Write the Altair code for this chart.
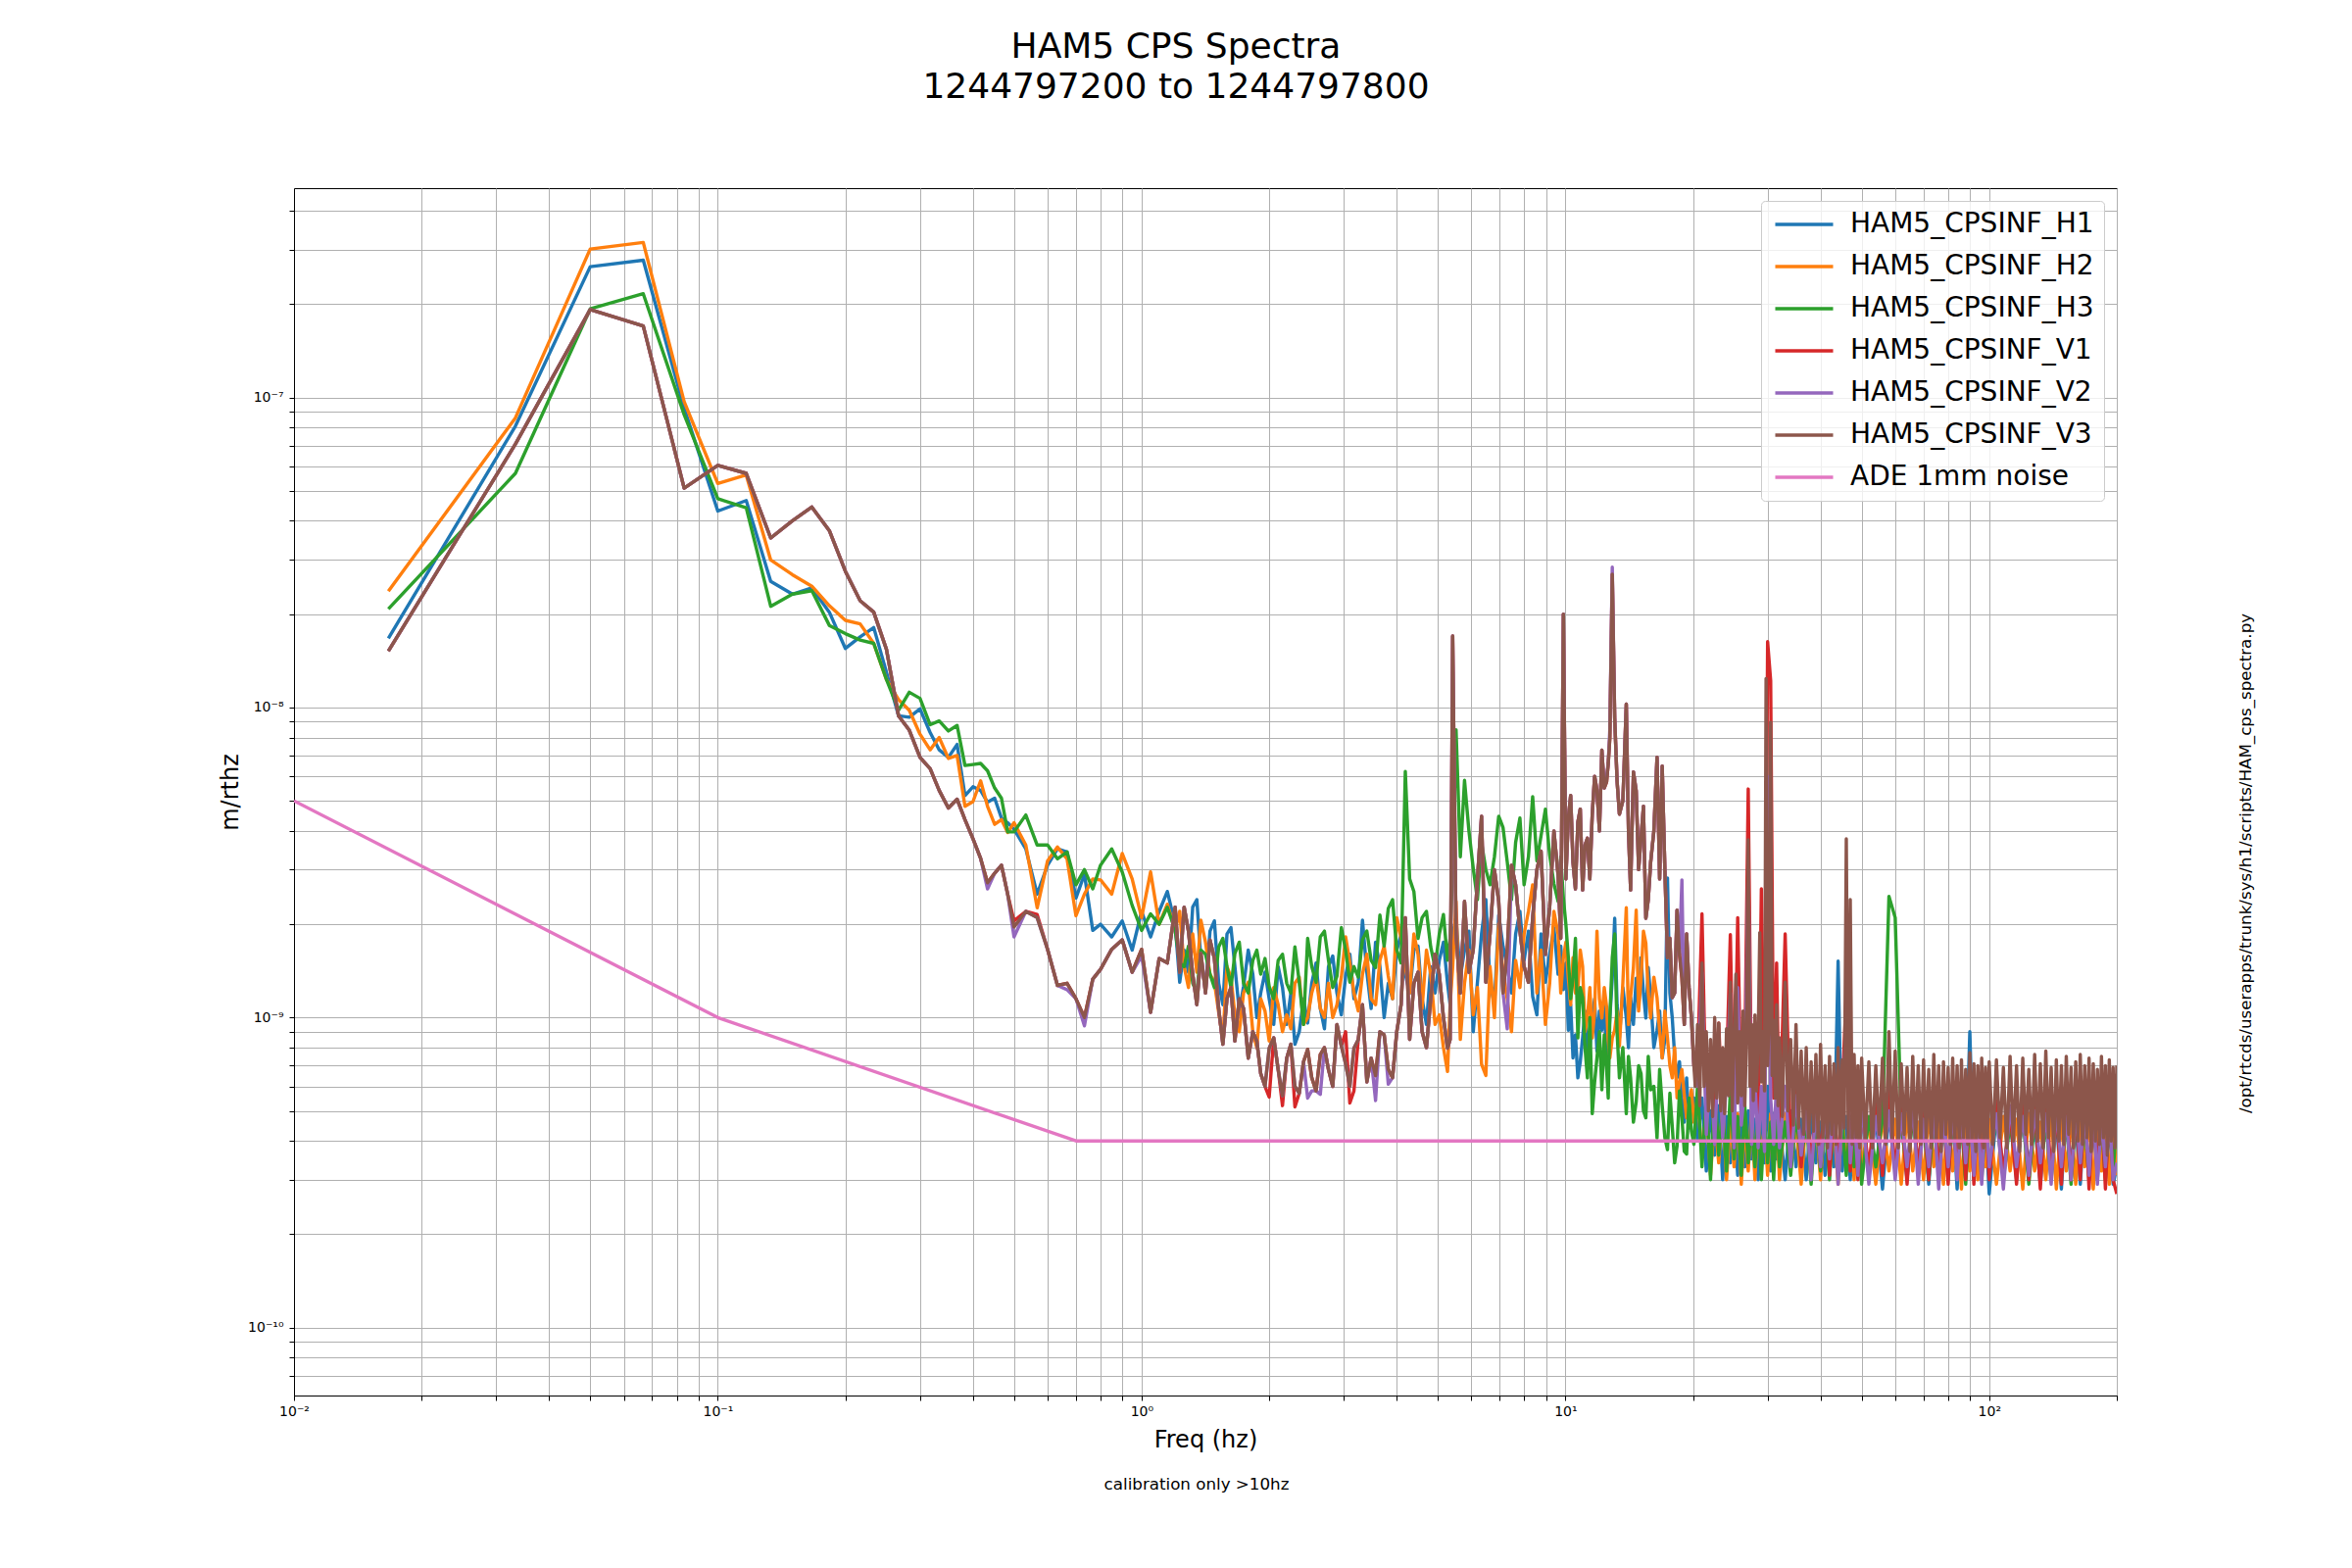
import altair as alt
import pandas as pd

SERIES = ["HAM5_CPSINF_H1", "HAM5_CPSINF_H2", "HAM5_CPSINF_H3",
          "HAM5_CPSINF_V1", "HAM5_CPSINF_V2", "HAM5_CPSINF_V3", "ADE 1mm noise"]
COLORS = ["#1f77b4", "#ff7f0e", "#2ca02c", "#d62728", "#9467bd", "#8c564b", "#e377c2"]

TITLE = ["HAM5 CPS Spectra", "1244797200 to 1244797800"]
NOTE = "calibration only >10hz"
SCRIPT_PATH = "/opt/rtcds/userapps/trunk/sys/h1/scripts/HAM_cps_spectra.py"

# amplitudes below are in units of 1e-10 m/rtHz
UNIT = 1e-10

# ---- frequency grid below 20 Hz (Hz) ----
FREQ_LOW = [
    0.0167, 0.0333, 0.05, 0.0667, 0.0833, 0.1, 0.1167, 0.1333, 0.15, 0.1667, 0.1833, 0.2, 0.2167, 0.2333, 0.25,
    0.267, 0.283, 0.3, 0.317, 0.333, 0.35, 0.367, 0.383, 0.4, 0.417, 0.433, 0.45, 0.467, 0.483, 0.5, 0.533,
    0.567, 0.6, 0.633, 0.667, 0.7, 0.733, 0.767, 0.8, 0.85, 0.9, 0.95, 1.0, 1.05, 1.1, 1.15, 1.2,
    1.26, 1.32, 1.38, 1.45, 1.52, 1.59, 1.66, 1.74, 1.83, 1.91, 2.0, 2.1, 2.2, 2.3, 2.41, 2.52, 2.64, 2.76,
    2.89, 3.03, 3.17, 3.32, 3.48, 3.65, 3.82, 4.0, 4.19, 4.39, 4.59, 4.81, 5.04, 5.27, 5.42, 5.52, 5.78,
    6.06, 6.34, 6.64, 6.96, 7.29, 7.63, 7.99, 8.37, 8.76, 9.18, 9.61,
    9.89, 10.16, 10.42, 10.7, 10.98, 11.27, 11.57, 11.87, 12.19, 12.51, 12.73, 12.9, 13.07, 13.41, 13.92,
    14.25, 14.69, 15.08, 15.48, 15.89, 16.45, 16.92, 17.41, 17.87, 18.34, 18.83, 19.32, 19.83,
]

# ---- extra in-between readings, 1.2-20 Hz (Hz) ----
FREQ_MID = [
    1.23, 1.29, 1.35, 1.415, 1.485, 1.555, 1.625, 1.70, 1.785, 1.87, 1.955, 2.05, 2.15, 2.25, 2.355, 2.465,
    2.58, 2.70, 2.825, 2.96, 3.10, 3.245, 3.40, 3.565, 3.735, 3.91, 4.095, 4.29, 4.49, 4.70, 4.925, 5.155,
    5.345, 5.65, 5.92, 6.20, 6.49, 6.80, 7.125, 7.46, 7.81, 8.18, 8.565, 8.97, 9.395, 9.75,
    10.025, 10.29, 10.56, 10.84, 11.125, 11.42, 11.72, 12.03, 12.35, 12.62, 13.24, 13.665, 14.085, 14.47,
    14.885, 15.28, 15.685, 16.17, 16.685, 17.165, 17.64, 18.105, 18.585, 19.075, 19.575, 20.1,
]

# ---- frequency grid 20-200 Hz for H1, H2, H3, V1, V2 (Hz) ----
FREQ_HIGH = [
    20.5, 21, 21.5, 22, 22.5, 23, 23.5, 24, 24.5, 25, 25.5, 26, 26.5, 27, 27.5, 28, 28.5, 29, 29.5, 30, 30.5, 31, 31.5, 32,
    33, 34, 35, 36, 37, 38, 39, 40, 41, 42, 43, 44, 45, 46, 47, 48, 49, 50,
    52, 54, 56, 58, 60, 62, 64, 66, 68, 70, 72, 74, 76, 78, 80, 82, 84, 86, 88, 90, 92, 94, 96, 98, 100,
    104, 108, 112, 116, 120, 124, 128, 132, 136, 140, 144, 148, 152, 156, 160, 164, 168, 172, 176, 180, 184, 188, 192, 196, 200,
]

# ---- finer frequency grid 20-200 Hz for V3, the trace drawn on top (Hz) ----
FREQ_HIGH_V3 = [
    20.25, 20.5, 20.75, 21, 21.25, 21.5, 21.75, 22, 22.25, 22.5, 22.75, 23, 23.25, 23.5, 23.75, 24,
    24.25, 24.5, 24.75, 25, 25.25, 25.5, 25.75, 26, 26.25, 26.5, 26.75, 27, 27.25, 27.5, 27.75, 28,
    28.25, 28.5, 28.75, 29, 29.25, 29.5, 29.75, 30, 30.25, 30.5, 30.75, 31, 31.25, 31.5, 31.75, 32,
    32.5, 33, 33.5, 34, 34.5, 35, 35.5, 36, 36.5, 37, 37.5, 38, 38.5, 39, 39.5, 40, 40.5, 41,
    41.5, 42, 42.5, 43, 43.5, 44, 44.5, 45, 45.5, 46, 46.5, 47, 47.5, 48, 48.5, 49, 49.5, 50,
    51, 52, 53, 54, 55, 56, 57, 58, 59, 60, 61, 62, 63, 64, 65, 66, 67, 68, 69, 70,
    71, 72, 73, 74, 75, 76, 77, 78, 79, 80, 81, 82, 83, 84, 85, 86, 87, 88, 89, 90,
    91, 92, 93, 94, 95, 96, 97, 98, 99, 100,
    102, 104, 106, 108, 110, 112, 114, 116, 118, 120, 122, 124, 126, 128, 130, 132, 134, 136, 138, 140,
    142, 144, 146, 148, 150, 152, 154, 156, 158, 160, 162, 164, 166, 168, 170, 172, 174, 176, 178, 180,
    182, 184, 186, 188, 190, 192, 194, 196, 198, 200,
]

H1_LOW = [
    167, 808, 2640, 2770, 923, 430, 465, 255, 232, 243, 203, 155, 169, 181, 130,
    94, 93, 99, 83, 73, 69, 76, 52, 55.5, 54, 49.5, 51, 44, 42.5, 40.5, 35, 25, 31, 35, 34.2, 24.3, 29, 19.1, 20,
    18.2, 20.5, 16.5, 22, 18.2, 22, 25.5, 20,
    16.5, 22.7, 15.3, 19.0, 12.9, 18.6, 14.6, 12.6, 13.8, 12.0, 11.5, 14.6, 9.5, 8.2, 11.5, 12.9, 10.7, 14.6,
    12.0, 13.6, 11.5, 20.6, 10.7, 14.6, 12.9, 16.5, 13.8, 16.5, 11.5, 14.6, 15.3, 12.9, 18.6, 21.0, 16.5,
    9.0, 18.6, 12.9, 21.4, 14.6, 18.6, 15.3, 11.7, 18.6, 16.1, 13.8,
    12.3, 9.1, 7.41, 6.39, 8.6, 7.2, 9.97, 7.8, 9.1, 7.41, 9.97, 13.4, 20.9, 8.6, 9.97,
    11.6, 13.4, 15.6, 9.97, 11.6, 9.1, 7.41, 28.2, 9.97, 6.39, 5.51, 6.39, 5.1,
]
H2_LOW = [
    237, 859, 3010, 3160, 969, 528, 562, 299, 268, 246, 213, 191, 186, 161, 123,
    106, 98, 82, 73, 80, 68.5, 70, 48, 49.7, 58, 48, 42, 43.5, 39.5, 42.5, 36, 22.6, 32, 35.5, 32.5, 21.3, 25, 28, 27.8,
    25, 33.8, 28, 21, 29.5, 20, 23.2, 19.1,
    14.6, 18.6, 20.6, 13.8, 10.4, 14.6, 10.2, 12.0, 9.0, 11.5, 8.4, 11.0, 10.2, 12.9, 9.5, 12.0, 10.7, 12.9,
    11.0, 18.2, 12.0, 13.8, 11.5, 15.3, 13.6, 21.0, 14.6, 18.6, 10.7, 13.8, 10.2, 6.7, 14.6, 23.7, 12.9,
    10.2, 7.07, 14.6, 20.1, 11.5, 15.3, 18.6, 26.8, 16.5, 12.9, 18.6,
    15.6, 13.4, 15.6, 12.3, 14.6, 9.97, 8.6, 19.0, 9.97, 10.8, 7.41, 8.6, 9.1, 8.1, 22.6,
    11.6, 22.2, 13.4, 17.4, 9.97, 11.6, 7.41, 8.6, 6.39, 5.51, 6.8, 4.75, 5.85,
]
H3_LOW = [
    208, 569, 1930, 2160, 880, 471, 441, 212, 232, 238, 184, 173, 165, 161, 123,
    98, 112, 107, 88, 90.5, 84, 87.5, 65, 65.5, 66, 62.5, 55, 51, 39.7, 39.7, 45, 36, 36, 32.5, 34.2, 26.8, 30, 26, 31,
    35, 29.5, 23, 19.1, 21.6, 20, 22.7, 19.1,
    14.6, 12.9, 16.5, 13.8, 16.9, 14.6, 16.1, 12.9, 15.3, 13.8, 12.6, 15.3, 12.9, 16.9, 9.5, 14.6, 18.2, 15.3,
    13.6, 16.5, 14.6, 17.8, 15.3, 21.4, 22.5, 16.5, 62.2, 25.5, 21.0, 16.9, 18.6, 15.3, 30.3, 84.8, 58.2,
    30.3, 36.7, 26.8, 44.6, 31.8, 36.7, 26.8, 51.6, 38.6, 33.4, 23.7,
    24.3, 15.6, 13.4, 8.6, 11.6, 6.39, 4.9, 7.41, 5.85, 6.8, 9.97, 15.6, 18.6, 6.39, 4.9,
    6.39, 5.35, 6.6, 4.75, 5.85, 4.09, 5.2, 3.75, 4.45, 3.85, 4.75, 3.63, 4.3,
]
# V1, V2 and V3 lie on top of each other below 20 Hz; this is V3,
# and the few points where V1 / V2 visibly differ are listed separately
V3_LOW = [
    152, 707, 1920, 1700, 510, 604, 569, 352, 400, 443, 372, 275, 221, 203, 154,
    94, 84.5, 69, 63.5, 54, 47.4, 50.6, 43.5, 37.7, 32.6, 27.2, 29.2, 31, 25, 19.6, 22, 21, 16.6, 12.7, 12.9, 11.5,
    10, 13.3, 14.3, 16.6, 17.8, 14, 16.6, 10.4, 15.5, 15, 22.7,
    22.7, 13.8, 16.1, 17.8, 10.7, 11.5, 8.4, 10.7, 9.0, 6.6, 7.97, 6.8, 7.4, 6.0, 7.2, 6.4, 7.6, 6.8,
    9.5, 7.07, 7.97, 11.0, 7.4, 9.0, 6.8, 9.0, 21.0, 12.9, 9.0, 11.5, 13.8, 7.97, 170, 18.6, 23.7,
    16.5, 44.6, 18.6, 23.7, 16.5, 26.8, 14.6, 21.0, 34.4, 22.7, 28.8,
    199.8, 44.0, 31.7, 42.7, 25.8, 37.9, 45.3, 54.1, 72.9, 57.5, 79.7, 268.8, 92.4, 45.3, 102.5,
    25.8, 53.8, 37.9, 20.9, 31.7, 69.1, 64.7, 15.6, 11.6, 22.2, 13.4, 18.6, 9.97,
]
V1_LOW_DIFF = {0.5: 20.5, 0.567: 21.5, 2.0: 5.54, 2.3: 5.15, 3.03: 9.0, 3.17: 5.8}
V2_LOW_DIFF = {0.433: 26, 0.5: 18.2, 0.667: 12.3, 0.733: 9.4, 1.0: 15.8, 2.52: 5.8, 2.64: 5.65,
               3.82: 6.1, 7.29: 9.2, 12.51: 60, 12.73: 85, 12.9: 283.6, 18.83: 27.8}

H1_MID = [
    13.0, 14.0, 24.0, 12.5, 20.5, 11.0, 19.5, 10.5, 16.5, 10.0, 14.0, 9.5, 12.5, 12.0, 9.0, 9.6,
    15.0, 9.2, 15.8, 10.2, 16.0, 13.0, 14.0, 17.5, 10.0, 11.5, 18.5, 12.0, 17.0, 9.5, 12.0, 17.5,
    11.0, 13.5, 19.0, 13.0, 24.0, 11.0, 17.0, 12.0, 22.0, 19.0, 10.2, 13.0, 19.5, 17.0,
    15.0, 11.0, 8.8, 7.2, 10.5, 8.0, 11.5, 10.5, 11.0, 8.2, 11.0, 12.5, 8.0, 9.5,
    10.8, 12.0, 14.5, 8.0, 10.5, 8.5, 12.0, 7.5, 7.2, 4.6, 4.4, 5.5,
]
H2_MID = [
    22.0, 12.5, 14.0, 17.5, 13.0, 8.5, 13.5, 9.0, 13.0, 8.0, 10.5, 12.5, 9.0, 9.2, 13.5, 10.0,
    13.5, 10.0, 10.0, 13.5, 15.0, 10.5, 16.0, 11.0, 17.0, 11.5, 18.0, 12.0, 16.0, 16.5, 9.5, 8.0,
    11.0, 8.5, 16.5, 12.5, 6.5, 10.0, 14.0, 9.0, 12.5, 22.0, 12.0, 9.5, 22.0, 12.0,
    17.5, 11.0, 12.0, 16.5, 9.0, 12.5, 10.5, 11.5, 12.5, 8.4, 10.5, 13.0, 9.5, 14.5,
    10.5, 19.0, 12.0, 13.5, 9.0, 10.5, 7.0, 8.0, 6.2, 5.6, 5.3, 4.6,
]
H3_MID = [
    15.0, 17.0, 12.0, 16.0, 12.5, 18.0, 12.5, 17.5, 12.0, 16.5, 15.5, 11.5, 16.0, 12.0, 13.0, 18.0,
    13.0, 19.0, 12.5, 19.5, 13.0, 13.5, 19.0, 14.5, 17.0, 24.0, 15.0, 28.0, 18.0, 22.0, 14.5, 21.5,
    18.0, 33.0, 40.0, 24.0, 30.0, 33.0, 41.0, 24.0, 44.0, 33.0, 32.0, 47.0, 27.0, 33.0,
    20.0, 11.5, 18.0, 12.5, 8.0, 10.0, 6.2, 9.0, 8.8, 5.5, 9.0, 8.0, 7.5, 4.6,
    7.0, 5.0, 7.5, 6.0, 6.8, 4.1, 5.7, 3.4, 5.8, 3.7, 5.5, 3.9,
]
V3_MID = [
    14.0, 19.0, 11.0, 12.0, 15.5, 8.2, 12.5, 11.5, 7.4, 8.4, 6.0, 8.6, 5.6, 8.2, 5.7, 7.9,
    5.8, 8.0, 6.0, 8.1, 6.0, 8.5, 6.2, 6.5, 8.8, 6.4, 11.0, 8.5, 14.0, 8.0, 16.0, 10.0,
    8.5, 12.0, 14.0, 28.0, 13.0, 30.0, 12.0, 31.0, 19.0, 13.0, 30.0, 16.0, 40.0, 18.0,
    28.0, 52.0, 26.0, 47.0, 36.0, 28.0, 60.0, 40.0, 55.0, 66.0, 58.0, 50.0, 40.0, 62.0,
    30.0, 48.0, 24.0, 40.0, 28.0, 30.0, 18.0, 12.0, 16.0, 9.5, 12.5, 7.0,
]
V1_MID_DIFF = {2.15: 5.2, 3.10: 5.3}
V2_MID_DIFF = {2.465: 5.5, 3.565: 5.4}

H1_HIGH = [
    4.0, 5.5, 3.2, 5.0, 3.6, 5.2, 3.0, 4.8, 3.4, 5.0, 3.1, 4.6, 3.3, 5.0, 3.5, 4.7, 3.0, 5.1, 3.4, 6.0, 3.2, 4.9, 3.5, 4.6,
    3.0, 5.0, 3.3, 4.7, 3.0, 4.9, 3.4, 4.6, 3.1, 5.0, 3.3, 15.2, 3.2, 4.8, 3.0, 4.6, 3.3, 5.0,
    3.1, 4.8, 2.8, 4.9, 3.2, 4.7, 3.0, 5.1, 3.3, 4.6, 2.9, 4.9, 3.3, 4.7, 3.0, 4.9, 2.8, 5.0, 3.2, 9.0, 3.0, 4.8, 3.3, 4.6, 2.7,
    4.9, 3.2, 4.7, 3.0, 5.0, 3.3, 4.6, 2.9, 4.8, 3.2, 4.7, 2.8, 5.0, 3.3, 4.6, 2.9, 4.9, 3.2, 4.7, 3.0, 5.0, 3.2, 4.6, 2.9, 3.3,
]
H2_HIGH = [
    5.5, 3.6, 5.0, 3.1, 4.8, 3.4, 5.2, 3.0, 4.7, 3.3, 4.9, 2.9, 4.6, 3.2, 5.0, 3.0, 4.8, 3.4, 4.6, 3.1, 4.9, 3.3, 4.7, 3.0,
    4.9, 3.2, 4.6, 2.9, 4.8, 3.3, 4.7, 3.0, 4.9, 3.2, 4.6, 2.9, 4.8, 3.3, 4.7, 3.0, 4.9, 3.3,
    4.6, 2.9, 4.8, 3.2, 4.7, 2.9, 4.9, 3.2, 4.6, 3.0, 4.9, 3.3, 4.7, 2.9, 5.0, 3.2, 4.7, 2.8, 4.9, 3.2, 4.6, 3.0, 4.9, 3.3, 4.7,
    2.9, 4.8, 3.2, 4.7, 2.8, 4.9, 3.2, 4.6, 3.0, 4.9, 2.8, 4.7, 3.2, 4.8, 2.9, 4.6, 3.3, 4.8, 2.8, 4.7, 3.2, 4.9, 2.9, 4.6, 3.1,
]
H3_HIGH = [
    6.0, 3.3, 5.5, 3.0, 6.2, 3.6, 5.0, 3.2, 5.8, 3.5, 4.8, 3.1, 5.2, 3.4, 4.6, 3.3, 4.9, 3.0, 4.7, 3.4, 4.6, 3.0, 4.8, 3.3,
    4.6, 3.1, 4.9, 3.4, 4.7, 2.9, 4.8, 3.2, 4.6, 3.0, 4.9, 3.3, 4.6, 3.1, 4.8, 3.3, 4.6, 2.9,
    4.8, 3.3, 4.7, 24.6, 21.0, 4.6, 3.1, 4.8, 3.3, 4.7, 3.0, 4.6, 3.3, 4.9, 3.1, 4.7, 3.3, 4.6, 2.9, 4.8, 3.3, 4.7, 3.0, 4.6, 3.3,
    4.8, 3.0, 4.6, 3.2, 4.8, 2.9, 4.7, 3.2, 4.6, 3.0, 4.9, 3.2, 4.7, 2.9, 4.8, 3.2, 4.6, 3.0, 4.8, 3.3, 4.6, 3.0, 4.8, 3.2, 4.6,
]
V1_HIGH = [
    7.0, 21.6, 4.8, 7.5, 4.3, 9.6, 4.6, 6.8, 18.5, 4.4, 21.0, 4.8, 7.5, 54.6, 5.0, 8.0, 4.4, 26.0, 5.0, 163, 122, 5.5, 15.0, 4.2,
    18.6, 3.6, 6.5, 3.3, 5.8, 3.2, 5.5, 3.4, 6.0, 3.1, 5.2, 3.3, 5.8, 12.0, 3.2, 5.5, 3.0, 5.0,
    3.3, 5.4, 3.1, 5.8, 3.2, 5.2, 2.9, 5.4, 3.2, 5.0, 3.0, 5.5, 3.1, 5.1, 2.9, 5.3, 3.2, 5.0, 3.0, 5.6, 2.9, 5.1, 3.1, 5.2, 3.0,
    5.4, 3.1, 5.0, 2.9, 5.5, 3.0, 5.2, 2.8, 5.6, 3.1, 5.0, 2.9, 5.4, 3.0, 5.1, 3.0, 5.5, 2.8, 5.0, 3.1, 5.3, 2.8, 5.2, 3.0, 2.7,
]
V2_HIGH = [
    6.0, 14.0, 4.2, 7.0, 3.9, 8.0, 4.1, 6.2, 12.0, 3.8, 12.5, 4.5, 6.0, 30.0, 3.9, 6.3, 3.8, 6.0, 3.7, 60.0, 5.5, 3.9, 6.2, 3.8,
    6.0, 3.3, 5.6, 3.6, 5.0, 3.0, 5.2, 3.3, 4.8, 3.5, 5.4, 2.9, 4.9, 10.0, 3.4, 5.0, 3.1, 5.3,
    2.9, 4.8, 3.4, 5.0, 3.0, 4.9, 3.3, 5.2, 2.9, 4.7, 3.3, 5.0, 2.8, 4.8, 3.3, 5.1, 3.0, 4.9, 3.4, 5.2, 3.1, 4.8, 2.9, 5.0, 3.3,
    4.9, 2.8, 5.2, 3.3, 4.8, 3.1, 5.0, 3.4, 4.9, 2.9, 5.1, 3.3, 4.8, 3.0, 5.0, 3.4, 4.9, 3.1, 5.2, 2.9, 4.8, 3.3, 5.0, 3.0, 3.4,
]
V3_HIGH = [
    6.0, 9.5, 5.2, 15.0, 6.0, 9.0, 5.0, 8.5, 4.8, 10.0, 5.5, 9.6, 5.0, 8.0, 4.9, 9.2,
    5.6, 13.0, 5.0, 8.4, 13.8, 5.3, 9.0, 5.6, 10.5, 5.2, 8.8, 37.4, 6.0, 9.5, 5.4, 10.2,
    5.8, 8.5, 18.8, 6.2, 9.0, 5.8, 124, 7.0, 10.0, 89.7, 6.5, 9.8, 5.5, 11.0, 5.2, 8.6,
    4.8, 13.0, 5.0, 8.5, 4.5, 9.5, 4.4, 7.8, 4.2, 8.0, 4.0, 7.2, 4.3, 7.6, 3.9, 8.2, 4.1, 7.0,
    3.8, 7.5, 4.2, 7.1, 3.9, 8.0, 4.0, 7.3, 4.4, 37.7, 4.0, 24.0, 3.9, 7.6, 4.1, 7.0, 3.8, 7.4,
    4.0, 7.2, 3.8, 7.0, 4.2, 7.4, 3.9, 9.0, 4.1, 7.8, 3.8, 7.1, 4.2, 6.9, 3.7, 7.5, 4.0, 7.0, 3.9, 7.3,
    4.1, 6.8, 3.8, 7.6, 4.0, 7.0, 3.7, 7.2, 4.2, 6.9, 3.9, 7.4, 4.0, 7.0, 3.8, 7.3, 4.1, 6.8, 3.9, 7.7,
    4.0, 7.1, 3.7, 7.0, 4.1, 7.4, 3.8, 6.9, 4.0, 7.2,
    3.9, 7.3, 4.1, 6.9, 3.8, 7.5, 4.0, 7.0, 3.7, 7.4, 4.2, 6.8, 3.9, 7.6, 4.0, 7.1, 3.8, 7.8, 4.1, 6.9,
    3.7, 7.3, 4.0, 7.0, 3.9, 7.5, 4.2, 6.9, 3.8, 7.2, 4.0, 7.6, 3.9, 7.0, 4.1, 7.4, 3.7, 7.1, 4.0, 6.8,
    3.9, 7.5, 4.1, 7.0, 3.6, 7.3, 4.0, 6.9, 3.8, 7.0,
]

# ADE 1 mm noise model
ADE_FREQ = [0.01, 0.1, 0.7, 100]
ADE_VAL = [50, 10, 4, 4]

# ---- checks ----
for nm, arr in [("H1", H1_LOW), ("H2", H2_LOW), ("H3", H3_LOW), ("V3", V3_LOW)]:
    assert len(arr) == len(FREQ_LOW), (nm, len(arr), len(FREQ_LOW))
for nm, arr in [("H1", H1_MID), ("H2", H2_MID), ("H3", H3_MID), ("V3", V3_MID)]:
    assert len(arr) == len(FREQ_MID), (nm, len(arr), len(FREQ_MID))
for nm, arr in [("H1", H1_HIGH), ("H2", H2_HIGH), ("H3", H3_HIGH), ("V1", V1_HIGH), ("V2", V2_HIGH)]:
    assert len(arr) == len(FREQ_HIGH), (nm, len(arr), len(FREQ_HIGH))
assert len(V3_HIGH) == len(FREQ_HIGH_V3), (len(V3_HIGH), len(FREQ_HIGH_V3))

V1_LOW = [V1_LOW_DIFF.get(f, v) for f, v in zip(FREQ_LOW, V3_LOW)]
V2_LOW = [V2_LOW_DIFF.get(f, v) for f, v in zip(FREQ_LOW, V3_LOW)]
V1_MID = [V1_MID_DIFF.get(f, v) for f, v in zip(FREQ_MID, V3_MID)]
V2_MID = [V2_MID_DIFF.get(f, v) for f, v in zip(FREQ_MID, V3_MID)]

rows = []
def add(name, freqs, vals):
    for f, v in zip(freqs, vals):
        rows.append({"f": f, "v": v * UNIT, "series": name})

F_STD = FREQ_LOW + FREQ_MID + FREQ_HIGH
add(SERIES[0], F_STD, H1_LOW + H1_MID + H1_HIGH)
add(SERIES[1], F_STD, H2_LOW + H2_MID + H2_HIGH)
add(SERIES[2], F_STD, H3_LOW + H3_MID + H3_HIGH)
add(SERIES[3], F_STD, V1_LOW + V1_MID + V1_HIGH)
add(SERIES[4], F_STD, V2_LOW + V2_MID + V2_HIGH)
add(SERIES[5], FREQ_LOW + FREQ_MID + FREQ_HIGH_V3, V3_LOW + V3_MID + V3_HIGH)
add(SERIES[6], ADE_FREQ, ADE_VAL)
df = pd.DataFrame(rows)

# ---- axes ----
X_TICKS = [m * 10.0 ** e for e in range(-2, 3) for m in range(1, 10) if m * 10.0 ** e <= 200]
Y_TICKS = [7e-11, 8e-11, 9e-11] + [m * 10.0 ** e for e in (-10, -9, -8) for m in range(1, 10)] + [1e-7, 2e-7, 3e-7, 4e-7]

LBL = ("abs(log(datum.value)/LN10 - round(log(datum.value)/LN10)) < 0.001 ? "
       "'10' + (round(log(datum.value)/LN10) < 0 ? '\u207b' : '') + "
       "['\u2070','\u00b9','\u00b2','\u00b3','\u2074','\u2075','\u2076','\u2077','\u2078','\u2079','\u00b9\u2070']"
       "[abs(round(log(datum.value)/LN10))] : ''")

FONT = "DejaVu Sans"
W, H = 1860, 1232
LW = 3.4

axis_common = dict(
    grid=True, gridColor="#b0b0b0", gridWidth=1, gridOpacity=1,
    tickColor="#000000", tickSize=5, tickWidth=1,
    domainColor="#000000", domainWidth=1,
    labelFont=FONT, labelFontSize=14, labelColor="#000000", labelExpr=LBL,
    labelOverlap=False, labelFlush=False,
    titleFont=FONT, titleFontSize=24, titleFontWeight="normal", titleColor="#000000",
    titleBaseline="alphabetic", titleAlign="center",
)

X = alt.X("f:Q",
          scale=alt.Scale(type="log", domain=[0.01, 200], nice=False),
          axis=alt.Axis(values=X_TICKS, title="Freq (hz)", labelPadding=4,
                        titleX=W / 2, titleY=52, **axis_common))
Y = alt.Y("v:Q",
          scale=alt.Scale(type="log", domain=[6.04e-11, 4.73e-7], nice=False),
          axis=alt.Axis(values=Y_TICKS, title="m/rthz", labelPadding=6,
                        titleX=-58, titleY=H / 2, titleAngle=270, **axis_common))
COLOR = alt.Color("series:N",
                  scale=alt.Scale(domain=SERIES, range=COLORS),
                  legend=alt.Legend(title=None, orient="top-right", offset=13,
                                    labelFont=FONT, labelFontSize=28, labelColor="#000000",
                                    labelLimit=600, labelOffset=33,
                                    symbolType="M-3,0H3", symbolSize=387, symbolStrokeWidth=3.6,
                                    symbolOffset=20,
                                    rowPadding=15, padding=10,
                                    strokeColor="#cccccc", fillColor="rgba(255,255,255,0.8)",
                                    cornerRadius=4))

base = alt.Chart(df)
layers = []
for i, name in enumerate(SERIES):
    layers.append(
        base.transform_filter(alt.datum.series == name)
        .mark_line(strokeWidth=LW, clip=True, strokeJoin="round")
        .encode(x=X, y=Y, color=COLOR)
    )

note = alt.Chart(pd.DataFrame({"t": [NOTE]})).mark_text(
    font=FONT, fontSize=16.7, color="#000000", align="center", baseline="alphabetic"
).encode(text="t:N", x=alt.value(921), y=alt.value(1328))

path_txt = alt.Chart(pd.DataFrame({"t": [SCRIPT_PATH]})).mark_text(
    font=FONT, fontSize=16.7, color="#000000", align="center", baseline="middle", angle=270
).encode(text="t:N", x=alt.value(1992), y=alt.value(689))

chart = alt.layer(*layers, note, path_txt).properties(
    width=W, height=H,
    title=alt.TitleParams(text=TITLE, font=FONT, fontSize=36, fontWeight="normal", color="#000000",
                          lineHeight=41, anchor="middle", dx=-30, offset=48, baseline="bottom"),
    autosize=alt.AutoSizeParams(type="none"),
    padding={"left": 292, "top": 184, "right": 220, "bottom": 160},
).configure_view(stroke="#000000", strokeWidth=1)

chart.save("out.html", embed_options={"renderer": "svg", "actions": False})
